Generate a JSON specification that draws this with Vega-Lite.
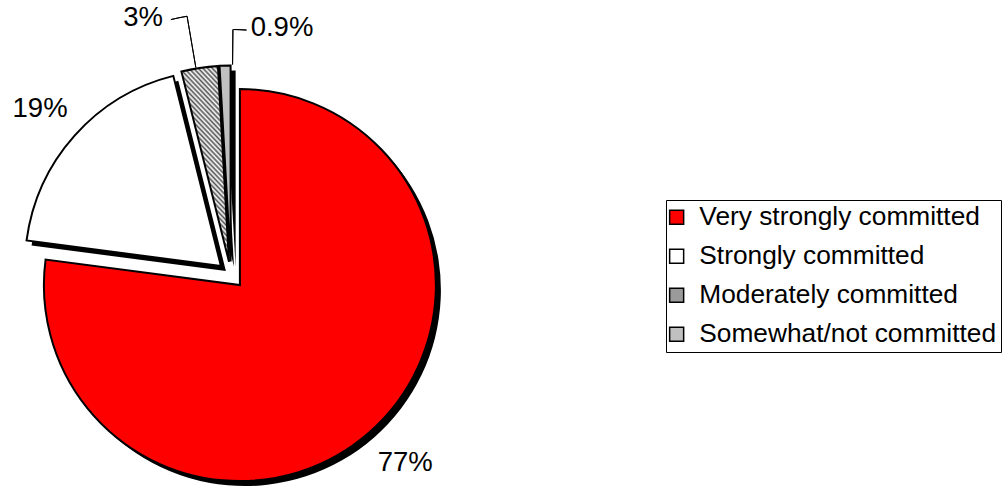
{
  "$schema": "https://vega.github.io/schema/vega-lite/v6.json",
  "width": 1005,
  "height": 488,
  "padding": 0,
  "autosize": {"type": "none"},
  "background": "white",
  "data": {
    "values": [
      {"cat": "Very strongly committed", "share": 77, "label": "77%"},
      {"cat": "Strongly committed", "share": 19, "label": "19%"},
      {"cat": "Moderately committed", "share": 3, "label": "3%"},
      {"cat": "Somewhat/not committed", "share": 0.9, "label": "0.9%"}
    ]
  },
  "encoding": {
    "theta": {"field": "share", "type": "quantitative", "stack": true},
    "order": {"field": "share", "type": "quantitative", "sort": "descending"}
  },
  "layer": [
    {
      "mark": {"type": "arc", "x": 244.9, "y": 290.1, "radius": 196, "fill": "black"},
      "encoding": {"opacity": {"condition": {"test": "datum.cat === 'Very strongly committed'", "value": 1}, "value": 0}}
    },
    {
      "mark": {"type": "arc", "x": 225.9, "y": 271, "radius": 196, "fill": "black"},
      "encoding": {"opacity": {"condition": {"test": "datum.cat === 'Strongly committed'", "value": 1}, "value": 0}}
    },
    {
      "mark": {"type": "arc", "x": 234, "y": 266.7, "radius": 196, "fill": "black"},
      "encoding": {"opacity": {"condition": {"test": "datum.cat === 'Moderately committed'", "value": 1}, "value": 0}}
    },
    {
      "mark": {"type": "arc", "x": 235.6, "y": 266.5, "radius": 196, "fill": "black"},
      "encoding": {"opacity": {"condition": {"test": "datum.cat === 'Somewhat/not committed'", "value": 1}, "value": 0}}
    },
    {
      "mark": {"type": "arc", "x": 239.9, "y": 285.1, "radius": 196, "stroke": "black", "strokeWidth": 2},
      "encoding": {
        "fill": {
          "field": "cat",
          "type": "nominal",
          "scale": {
            "domain": ["Very strongly committed", "Strongly committed", "Moderately committed", "Somewhat/not committed"],
            "range": ["#ff0000", "#ffffff", "#9a9a9a", "#c0c0c0"]
          },
          "legend": {"orient": "none", "legendX": 666, "legendY": 200, "title": null}
        },
        "opacity": {"condition": {"test": "datum.cat === 'Very strongly committed'", "value": 1}, "value": 0}
      }
    },
    {
      "mark": {"type": "arc", "x": 220.9, "y": 266, "radius": 196, "stroke": "black", "strokeWidth": 2},
      "encoding": {
        "fill": {"field": "cat", "type": "nominal"},
        "opacity": {"condition": {"test": "datum.cat === 'Strongly committed'", "value": 1}, "value": 0}
      }
    },
    {
      "mark": {
        "type": "arc", "x": 229, "y": 261.7, "radius": 196, "stroke": "black", "strokeWidth": 2,
        "fill": {
          "gradient": "linear", "x1": 0, "y1": 1, "x2": 0.3006, "y2": -0.178,
          "stops": [
            {"offset": 0, "color": "#555555"}, {"offset": 0.01, "color": "#ffffff"}, {"offset": 0.02, "color": "#555555"}, {"offset": 0.03, "color": "#ffffff"}, {"offset": 0.04, "color": "#555555"},
            {"offset": 0.05, "color": "#ffffff"}, {"offset": 0.06, "color": "#555555"}, {"offset": 0.07, "color": "#ffffff"}, {"offset": 0.08, "color": "#555555"}, {"offset": 0.09, "color": "#ffffff"},
            {"offset": 0.10, "color": "#555555"}, {"offset": 0.11, "color": "#ffffff"}, {"offset": 0.12, "color": "#555555"}, {"offset": 0.13, "color": "#ffffff"}, {"offset": 0.14, "color": "#555555"},
            {"offset": 0.15, "color": "#ffffff"}, {"offset": 0.16, "color": "#555555"}, {"offset": 0.17, "color": "#ffffff"}, {"offset": 0.18, "color": "#555555"}, {"offset": 0.19, "color": "#ffffff"},
            {"offset": 0.20, "color": "#555555"}, {"offset": 0.21, "color": "#ffffff"}, {"offset": 0.22, "color": "#555555"}, {"offset": 0.23, "color": "#ffffff"}, {"offset": 0.24, "color": "#555555"},
            {"offset": 0.25, "color": "#ffffff"}, {"offset": 0.26, "color": "#555555"}, {"offset": 0.27, "color": "#ffffff"}, {"offset": 0.28, "color": "#555555"}, {"offset": 0.29, "color": "#ffffff"},
            {"offset": 0.30, "color": "#555555"}, {"offset": 0.31, "color": "#ffffff"}, {"offset": 0.32, "color": "#555555"}, {"offset": 0.33, "color": "#ffffff"}, {"offset": 0.34, "color": "#555555"},
            {"offset": 0.35, "color": "#ffffff"}, {"offset": 0.36, "color": "#555555"}, {"offset": 0.37, "color": "#ffffff"}, {"offset": 0.38, "color": "#555555"}, {"offset": 0.39, "color": "#ffffff"},
            {"offset": 0.40, "color": "#555555"}, {"offset": 0.41, "color": "#ffffff"}, {"offset": 0.42, "color": "#555555"}, {"offset": 0.43, "color": "#ffffff"}, {"offset": 0.44, "color": "#555555"},
            {"offset": 0.45, "color": "#ffffff"}, {"offset": 0.46, "color": "#555555"}, {"offset": 0.47, "color": "#ffffff"}, {"offset": 0.48, "color": "#555555"}, {"offset": 0.49, "color": "#ffffff"},
            {"offset": 0.50, "color": "#555555"}, {"offset": 0.51, "color": "#ffffff"}, {"offset": 0.52, "color": "#555555"}, {"offset": 0.53, "color": "#ffffff"}, {"offset": 0.54, "color": "#555555"},
            {"offset": 0.55, "color": "#ffffff"}, {"offset": 0.56, "color": "#555555"}, {"offset": 0.57, "color": "#ffffff"}, {"offset": 0.58, "color": "#555555"}, {"offset": 0.59, "color": "#ffffff"},
            {"offset": 0.60, "color": "#555555"}, {"offset": 0.61, "color": "#ffffff"}, {"offset": 0.62, "color": "#555555"}, {"offset": 0.63, "color": "#ffffff"}, {"offset": 0.64, "color": "#555555"},
            {"offset": 0.65, "color": "#ffffff"}, {"offset": 0.66, "color": "#555555"}, {"offset": 0.67, "color": "#ffffff"}, {"offset": 0.68, "color": "#555555"}, {"offset": 0.69, "color": "#ffffff"},
            {"offset": 0.70, "color": "#555555"}, {"offset": 0.71, "color": "#ffffff"}, {"offset": 0.72, "color": "#555555"}, {"offset": 0.73, "color": "#ffffff"}, {"offset": 0.74, "color": "#555555"},
            {"offset": 0.75, "color": "#ffffff"}, {"offset": 0.76, "color": "#555555"}, {"offset": 0.77, "color": "#ffffff"}, {"offset": 0.78, "color": "#555555"}, {"offset": 0.79, "color": "#ffffff"},
            {"offset": 0.80, "color": "#555555"}, {"offset": 0.81, "color": "#ffffff"}, {"offset": 0.82, "color": "#555555"}, {"offset": 0.83, "color": "#ffffff"}, {"offset": 0.84, "color": "#555555"},
            {"offset": 0.85, "color": "#ffffff"}, {"offset": 0.86, "color": "#555555"}, {"offset": 0.87, "color": "#ffffff"}, {"offset": 0.88, "color": "#555555"}, {"offset": 0.89, "color": "#ffffff"},
            {"offset": 0.90, "color": "#555555"}, {"offset": 0.91, "color": "#ffffff"}, {"offset": 0.92, "color": "#555555"}, {"offset": 0.93, "color": "#ffffff"}, {"offset": 0.94, "color": "#555555"},
            {"offset": 0.95, "color": "#ffffff"}, {"offset": 0.96, "color": "#555555"}, {"offset": 0.97, "color": "#ffffff"}, {"offset": 0.98, "color": "#555555"}, {"offset": 0.99, "color": "#ffffff"},
            {"offset": 1, "color": "#555555"}
          ]
        }
      },
      "encoding": {"opacity": {"condition": {"test": "datum.cat === 'Moderately committed'", "value": 1}, "value": 0}}
    },
    {
      "mark": {"type": "arc", "x": 230.6, "y": 261.5, "radius": 196, "stroke": "black", "strokeWidth": 2},
      "encoding": {
        "fill": {"field": "cat", "type": "nominal"},
        "opacity": {"condition": {"test": "datum.cat === 'Somewhat/not committed'", "value": 1}, "value": 0}
      }
    },
    {
      "mark": {"type": "arc", "x": 229, "y": 261.7, "radius": 249, "radius2": 197, "thetaOffset": -0.0182, "padAngle": 0.5, "fill": null, "stroke": "black", "strokeWidth": 1},
      "encoding": {"opacity": {"condition": {"test": "datum.cat === 'Moderately committed'", "value": 1}, "value": 0}}
    },
    {
      "mark": {"type": "arc", "x": 229, "y": 261.7, "radius": 249, "radius2": 249, "thetaOffset": -0.0514, "padAngle": 0.0865, "fill": null, "stroke": "black", "strokeWidth": 1},
      "encoding": {"opacity": {"condition": {"test": "datum.cat === 'Moderately committed'", "value": 1}, "value": 0}}
    },
    {
      "mark": {"type": "arc", "x": 230.6, "y": 261.5, "radius": 232, "radius2": 197, "thetaOffset": 0.0383, "padAngle": 0.5, "fill": null, "stroke": "black", "strokeWidth": 1},
      "encoding": {"opacity": {"condition": {"test": "datum.cat === 'Somewhat/not committed'", "value": 1}, "value": 0}}
    },
    {
      "mark": {"type": "arc", "x": 230.6, "y": 261.5, "radius": 232, "radius2": 232, "thetaOffset": 0.0687, "fill": null, "stroke": "black", "strokeWidth": 1},
      "encoding": {"opacity": {"condition": {"test": "datum.cat === 'Somewhat/not committed'", "value": 1}, "value": 0}}
    },
    {
      "mark": {"type": "text", "x": 231, "y": 275, "radius": 256, "thetaOffset": -0.0286, "fontSize": 27.5, "font": "Liberation Sans", "align": "center", "baseline": "middle", "color": "black"},
      "encoding": {
        "text": {"field": "label"},
        "opacity": {"condition": {"test": "datum.cat === 'Very strongly committed'", "value": 1}, "value": 0}
      }
    },
    {
      "mark": {"type": "text", "x": 231, "y": 275, "radius": 253, "thetaOffset": -0.0123, "fontSize": 27.5, "font": "Liberation Sans", "align": "center", "baseline": "middle", "color": "black"},
      "encoding": {
        "text": {"field": "label"},
        "opacity": {"condition": {"test": "datum.cat === 'Strongly committed'", "value": 1}, "value": 0}
      }
    },
    {
      "mark": {"type": "text", "x": 231, "y": 275, "radius": 271.6, "thetaOffset": -0.1789, "fontSize": 27.5, "font": "Liberation Sans", "align": "center", "baseline": "middle", "color": "black"},
      "encoding": {
        "text": {"field": "label"},
        "opacity": {"condition": {"test": "datum.cat === 'Moderately committed'", "value": 1}, "value": 0}
      }
    },
    {
      "mark": {"type": "text", "x": 231, "y": 275, "radius": 252.2, "thetaOffset": 0.2319, "fontSize": 27.5, "font": "Liberation Sans", "align": "center", "baseline": "middle", "color": "black"},
      "encoding": {
        "text": {"field": "label"},
        "opacity": {"condition": {"test": "datum.cat === 'Somewhat/not committed'", "value": 1}, "value": 0}
      }
    }
  ],
  "config": {
    "view": {"stroke": null},
    "legend": {
      "labelFont": "Liberation Sans",
      "labelFontSize": 26.3,
      "labelColor": "black",
      "labelLimit": 0,
      "labelOffset": 9.5,
      "symbolOffset": -6.5,
      "symbolType": "square",
      "symbolSize": 196,
      "symbolStrokeColor": "black",
      "symbolStrokeWidth": 1.5,
      "symbolOpacity": 1,
      "strokeColor": "black",
      "padding": 4,
      "rowPadding": 12
    }
  }
}
